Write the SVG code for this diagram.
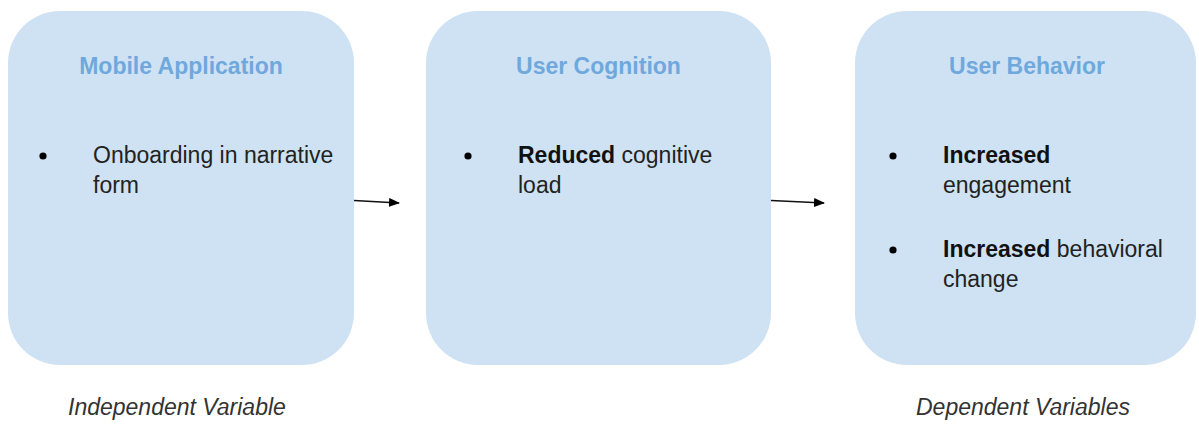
<svg xmlns="http://www.w3.org/2000/svg" width="1199" height="424" viewBox="0 0 1199 424">
  <style>
    .box { fill: #cfe2f3; }
    .title { font-family: "Liberation Sans", Arial, sans-serif; font-size: 23px; font-weight: bold; fill: #6fa8dc; text-anchor: middle; }
    .body { font-family: "Liberation Sans", Arial, sans-serif; font-size: 23px; fill: #222222; }
    .b { font-weight: bold; fill: #111111; }
    .note { font-family: "Liberation Sans", Arial, sans-serif; font-size: 23px; font-style: italic; fill: #333333; }
    .dot { fill: #000000; }
    .link { stroke: #111111; stroke-width: 1.4; fill: none; marker-end: url(#arrow); }
  </style>
  <defs>
    <marker id="arrow" markerWidth="11" markerHeight="9" refX="10" refY="4.5" orient="auto" markerUnits="userSpaceOnUse">
      <path d="M0,0 L11,4.5 L0,9 Z" fill="#000000"/>
    </marker>
  </defs>
  <rect width="1199" height="424" fill="#ffffff"/>

  <g id="mobile-application">
    <rect class="box" x="8" y="11" width="346" height="354" rx="52" ry="52"/>
    <text class="title" x="181" y="74">Mobile Application</text>
    <circle class="dot" cx="43" cy="156" r="3.6"/>
    <text class="body" x="93" y="163">Onboarding in narrative</text>
    <text class="body" x="93" y="193">form</text>
  </g>

  <g id="user-cognition">
    <rect class="box" x="426" y="11" width="345" height="354" rx="52" ry="52"/>
    <text class="title" x="598.5" y="74">User Cognition</text>
    <circle class="dot" cx="468" cy="156" r="3.6"/>
    <text class="body" x="518" y="163"><tspan class="b">Reduced</tspan> cognitive</text>
    <text class="body" x="518" y="193">load</text>
  </g>

  <g id="user-behavior">
    <rect class="box" x="855" y="11" width="341" height="354" rx="52" ry="52"/>
    <text class="title" x="1027" y="74">User Behavior</text>
    <circle class="dot" cx="893" cy="156" r="3.6"/>
    <text class="body" x="943" y="163"><tspan class="b">Increased</tspan></text>
    <text class="body" x="943" y="193">engagement</text>
    <circle class="dot" cx="893" cy="250" r="3.6"/>
    <text class="body" x="943" y="257"><tspan class="b">Increased</tspan> behavioral</text>
    <text class="body" x="943" y="287">change</text>
  </g>

  <g id="connectors">
    <line class="link" x1="354" y1="200.5" x2="399" y2="203"/>
    <line class="link" x1="771" y1="200.5" x2="824" y2="203"/>
  </g>

  <g id="labels">
    <text class="note" x="68" y="415">Independent Variable</text>
    <text class="note" x="916" y="415">Dependent Variables</text>
  </g>
</svg>
